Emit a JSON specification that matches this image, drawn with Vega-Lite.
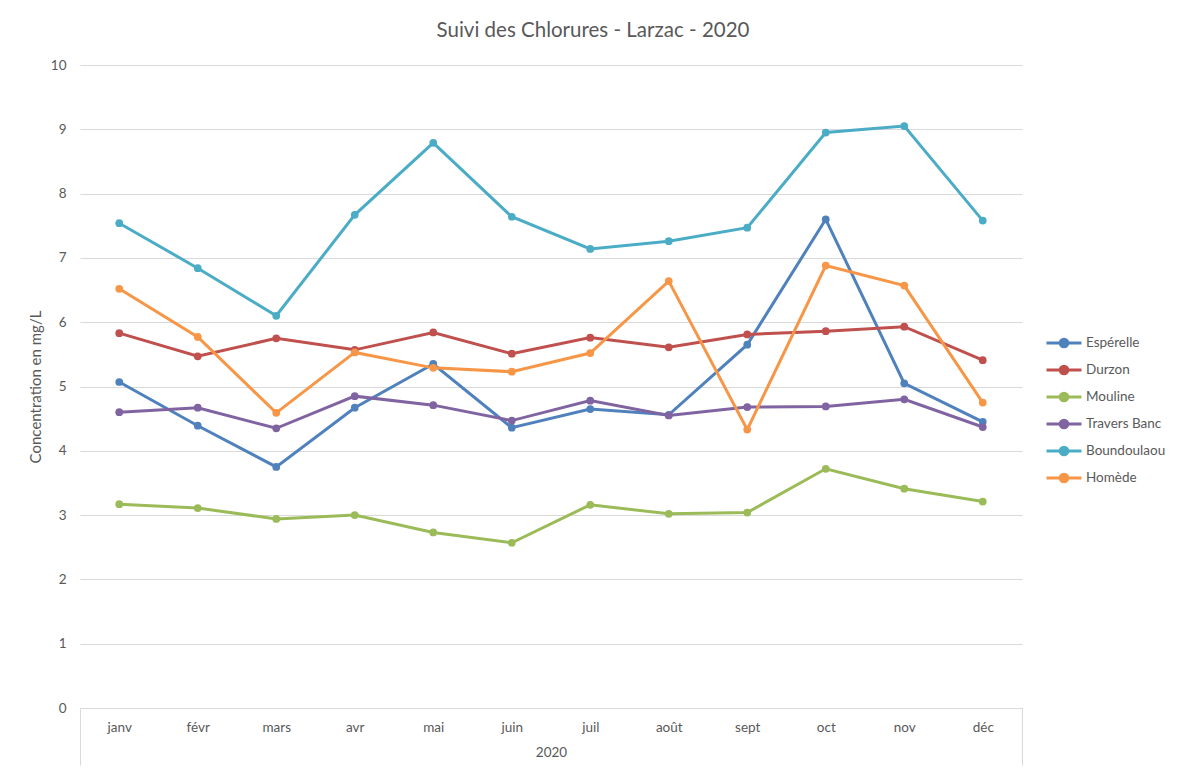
{
  "$schema": "https://vega.github.io/schema/vega-lite/v6.json",
  "width": 942,
  "height": 643,
  "autosize": {"type": "none"},
  "padding": {"left": 80, "top": 65, "right": 160, "bottom": 61},
  "background": "white",
  "config": {
    "font": "Lato",
    "view": {"stroke": null}
  },
  "title": {
    "text": "Suivi des Chlorures - Larzac - 2020",
    "font": "Lato",
    "fontSize": 20.5,
    "fontWeight": "normal",
    "color": "#595959",
    "anchor": "middle",
    "dx": 42,
    "offset": 17
  },
  "data": {
    "values": [
      {"mois": "janv", "site": "Espérelle", "valeur": 5.07},
      {"mois": "févr", "site": "Espérelle", "valeur": 4.39},
      {"mois": "mars", "site": "Espérelle", "valeur": 3.75},
      {"mois": "avr", "site": "Espérelle", "valeur": 4.67},
      {"mois": "mai", "site": "Espérelle", "valeur": 5.35},
      {"mois": "juin", "site": "Espérelle", "valeur": 4.36},
      {"mois": "juil", "site": "Espérelle", "valeur": 4.65},
      {"mois": "août", "site": "Espérelle", "valeur": 4.56},
      {"mois": "sept", "site": "Espérelle", "valeur": 5.65},
      {"mois": "oct", "site": "Espérelle", "valeur": 7.60},
      {"mois": "nov", "site": "Espérelle", "valeur": 5.05},
      {"mois": "déc", "site": "Espérelle", "valeur": 4.45},
      {"mois": "janv", "site": "Durzon", "valeur": 5.83},
      {"mois": "févr", "site": "Durzon", "valeur": 5.47},
      {"mois": "mars", "site": "Durzon", "valeur": 5.75},
      {"mois": "avr", "site": "Durzon", "valeur": 5.57},
      {"mois": "mai", "site": "Durzon", "valeur": 5.84},
      {"mois": "juin", "site": "Durzon", "valeur": 5.51},
      {"mois": "juil", "site": "Durzon", "valeur": 5.76},
      {"mois": "août", "site": "Durzon", "valeur": 5.61},
      {"mois": "sept", "site": "Durzon", "valeur": 5.81},
      {"mois": "oct", "site": "Durzon", "valeur": 5.86},
      {"mois": "nov", "site": "Durzon", "valeur": 5.93},
      {"mois": "déc", "site": "Durzon", "valeur": 5.41},
      {"mois": "janv", "site": "Mouline", "valeur": 3.17},
      {"mois": "févr", "site": "Mouline", "valeur": 3.11},
      {"mois": "mars", "site": "Mouline", "valeur": 2.94},
      {"mois": "avr", "site": "Mouline", "valeur": 3.00},
      {"mois": "mai", "site": "Mouline", "valeur": 2.73},
      {"mois": "juin", "site": "Mouline", "valeur": 2.57},
      {"mois": "juil", "site": "Mouline", "valeur": 3.16},
      {"mois": "août", "site": "Mouline", "valeur": 3.02},
      {"mois": "sept", "site": "Mouline", "valeur": 3.04},
      {"mois": "oct", "site": "Mouline", "valeur": 3.72},
      {"mois": "nov", "site": "Mouline", "valeur": 3.41},
      {"mois": "déc", "site": "Mouline", "valeur": 3.21},
      {"mois": "janv", "site": "Travers Banc", "valeur": 4.60},
      {"mois": "févr", "site": "Travers Banc", "valeur": 4.67},
      {"mois": "mars", "site": "Travers Banc", "valeur": 4.35},
      {"mois": "avr", "site": "Travers Banc", "valeur": 4.85},
      {"mois": "mai", "site": "Travers Banc", "valeur": 4.71},
      {"mois": "juin", "site": "Travers Banc", "valeur": 4.47},
      {"mois": "juil", "site": "Travers Banc", "valeur": 4.78},
      {"mois": "août", "site": "Travers Banc", "valeur": 4.55},
      {"mois": "sept", "site": "Travers Banc", "valeur": 4.68},
      {"mois": "oct", "site": "Travers Banc", "valeur": 4.69},
      {"mois": "nov", "site": "Travers Banc", "valeur": 4.80},
      {"mois": "déc", "site": "Travers Banc", "valeur": 4.37},
      {"mois": "janv", "site": "Boundoulaou", "valeur": 7.54},
      {"mois": "févr", "site": "Boundoulaou", "valeur": 6.84},
      {"mois": "mars", "site": "Boundoulaou", "valeur": 6.10},
      {"mois": "avr", "site": "Boundoulaou", "valeur": 7.67},
      {"mois": "mai", "site": "Boundoulaou", "valeur": 8.79},
      {"mois": "juin", "site": "Boundoulaou", "valeur": 7.64},
      {"mois": "juil", "site": "Boundoulaou", "valeur": 7.14},
      {"mois": "août", "site": "Boundoulaou", "valeur": 7.26},
      {"mois": "sept", "site": "Boundoulaou", "valeur": 7.47},
      {"mois": "oct", "site": "Boundoulaou", "valeur": 8.95},
      {"mois": "nov", "site": "Boundoulaou", "valeur": 9.05},
      {"mois": "déc", "site": "Boundoulaou", "valeur": 7.58},
      {"mois": "janv", "site": "Homède", "valeur": 6.52},
      {"mois": "févr", "site": "Homède", "valeur": 5.77},
      {"mois": "mars", "site": "Homède", "valeur": 4.59},
      {"mois": "avr", "site": "Homède", "valeur": 5.53},
      {"mois": "mai", "site": "Homède", "valeur": 5.29},
      {"mois": "juin", "site": "Homède", "valeur": 5.23},
      {"mois": "juil", "site": "Homède", "valeur": 5.52},
      {"mois": "août", "site": "Homède", "valeur": 6.64},
      {"mois": "sept", "site": "Homède", "valeur": 4.33},
      {"mois": "oct", "site": "Homède", "valeur": 6.88},
      {"mois": "nov", "site": "Homède", "valeur": 6.57},
      {"mois": "déc", "site": "Homède", "valeur": 4.75}
    ]
  },
  "encoding": {
    "x": {
      "field": "mois",
      "type": "ordinal",
      "sort": ["janv", "févr", "mars", "avr", "mai", "juin", "juil", "août", "sept", "oct", "nov", "déc"],
      "scale": {"type": "band", "paddingInner": 0, "paddingOuter": 0},
      "axis": {
        "title": "2020",
        "titleFont": "Lato",
        "titleFontSize": 13.5,
        "titleFontWeight": "normal",
        "titleColor": "#595959",
        "titleY": 44,
        "titleBaseline": "middle",
        "labelAngle": 0,
        "labelFont": "Lato",
        "labelFontSize": 13.5,
        "labelColor": "#595959",
        "labelPadding": -45,
        "domainColor": "#d9d9d9",
        "domainWidth": 1,
        "tickBand": "extent",
        "tickSize": 57,
        "tickColor": "#d9d9d9",
        "tickWidth": 1,
        "tickOpacity": {"condition": {"test": "datum.value === 'déc' || datum.index < 0", "value": 1}, "value": 0},
        "grid": false
      }
    },
    "y": {
      "field": "valeur",
      "type": "quantitative",
      "scale": {"domain": [0, 10], "nice": false, "zero": true},
      "axis": {
        "title": "Concentration en mg/L",
        "titleFont": "Lato",
        "titleFontSize": 15,
        "titleFontWeight": "normal",
        "titleColor": "#595959",
        "titlePadding": 7,
        "values": [0, 1, 2, 3, 4, 5, 6, 7, 8, 9, 10],
        "labelFont": "Lato",
        "labelFontSize": 13.5,
        "labelColor": "#595959",
        "labelPadding": 14,
        "domain": false,
        "ticks": false,
        "tickSize": 0,
        "grid": true,
        "gridColor": "#d9d9d9",
        "gridWidth": 1
      }
    },
    "color": {
      "field": "site",
      "type": "nominal",
      "scale": {
        "domain": ["Espérelle", "Durzon", "Mouline", "Travers Banc", "Boundoulaou", "Homède"],
        "range": ["#4F81BD", "#C0504D", "#9BBB59", "#8064A2", "#4BACC6", "#F79646"]
      },
      "legend": {
        "title": null,
        "orient": "none",
        "legendX": 965,
        "legendY": 267,
        "symbolType": "M-1,0L1,0M0.22,0A0.22,0.22,0,1,1,-0.22,0A0.22,0.22,0,1,1,0.22,0",
        "symbolSize": 1225,
        "symbolStrokeWidth": 3,
        "clipHeight": 22,
        "rowPadding": 5,
        "labelFont": "Lato",
        "labelFontSize": 13.5,
        "labelColor": "#595959",
        "labelOffset": 3
      }
    }
  },
  "layer": [
    {"mark": {"type": "line", "strokeWidth": 3}},
    {"mark": {"type": "point", "filled": true, "size": 60, "opacity": 1}}
  ]
}
